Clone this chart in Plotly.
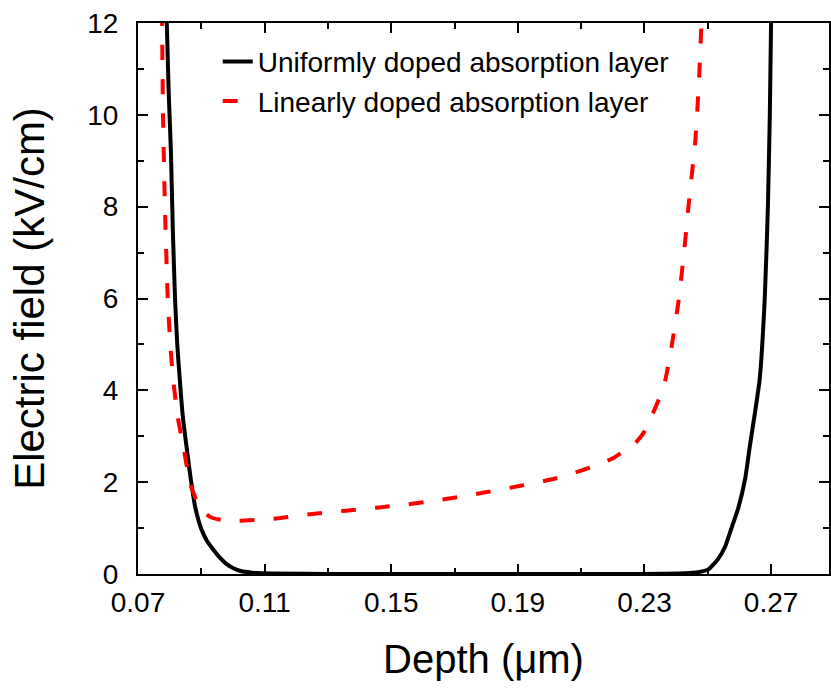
import plotly.graph_objects as go

# Uniformly doped absorption layer (black solid)
depth_uniform = [0.0788, 0.0791, 0.0797, 0.0804, 0.0810, 0.0817, 0.0824, 0.0832, 0.0842,
                 0.0853, 0.0866, 0.0880, 0.0900, 0.0918, 0.0937, 0.0958, 0.0979, 0.1000,
                 0.1021, 0.1060, 0.1125, 0.1300, 0.2200, 0.2360, 0.2430, 0.2470, 0.2502,
                 0.2533, 0.2555, 0.2574, 0.2597, 0.2618, 0.2633, 0.2649, 0.2664, 0.2680,
                 0.2690, 0.2696, 0.2700, 0.2703]
field_uniform = [13.0, 12.0, 10.5, 9.2, 7.5, 6.0, 5.0, 4.24, 3.4,
                 2.79, 2.1, 1.48, 0.98, 0.72, 0.54, 0.36, 0.22, 0.13,
                 0.07, 0.03, 0.01, 0.0, 0.0, 0.005, 0.015, 0.04, 0.10,
                 0.33, 0.6, 0.98, 1.45, 2.07, 2.79, 3.51, 4.24, 6.0,
                 8.0, 10.0, 12.0, 13.0]

# Linearly doped absorption layer (red dashed)
depth_linear = [0.0774, 0.0776, 0.0779, 0.0785, 0.0794, 0.0802, 0.0811, 0.0826, 0.0843,
                0.0864, 0.0880, 0.0895, 0.0912, 0.0932, 0.0970, 0.1021, 0.1137, 0.1242,
                0.1357, 0.1462, 0.1578, 0.1688, 0.1798, 0.1908, 0.2019, 0.2129, 0.2200,
                0.2244, 0.2271, 0.2300, 0.2323, 0.2345, 0.2365, 0.2386, 0.2407, 0.2425,
                0.2439, 0.2461, 0.2472, 0.2480, 0.2484]
field_linear = [13.0, 12.0, 10.0, 8.0, 6.0, 5.0, 4.24, 3.4, 2.79,
                1.99, 1.68, 1.45, 1.32, 1.23, 1.17, 1.16, 1.21, 1.30,
                1.38, 1.45, 1.54, 1.65, 1.78, 1.92, 2.08, 2.32, 2.52,
                2.72, 2.85, 3.1, 3.44, 3.8, 4.20, 4.96, 5.91, 7.0,
                8.0, 9.46, 10.7, 12.0, 13.0]

x_ticks = [0.07, 0.11, 0.15, 0.19, 0.23, 0.27]
x_tick_labels = ["0.07", "0.11", "0.15", "0.19", "0.23", "0.27"]
y_ticks = [0, 2, 4, 6, 8, 10, 12]

FONT = "Arial, Liberation Sans, sans-serif"

fig = go.Figure()
fig.add_trace(go.Scatter(
    x=depth_uniform, y=field_uniform, mode="lines",
    name="Uniformly doped absorption layer",
    line=dict(color="black", width=4, shape="spline", smoothing=0.5),
))
fig.add_trace(go.Scatter(
    x=depth_linear, y=field_linear, mode="lines",
    name="Linearly doped absorption layer",
    line=dict(color="#ff0000", width=4, dash="15px,19px", shape="spline", smoothing=0.5),
))

axis_common = dict(
    showgrid=False, zeroline=False, showline=True, linecolor="black", linewidth=2,
    mirror="ticks", ticks="inside", ticklen=10, tickwidth=2, tickcolor="black",
    tickfont=dict(family=FONT, size=28, color="black"),
)

fig.update_xaxes(
    **axis_common,
    range=[0.07, 0.2883], tickvals=x_ticks, ticktext=x_tick_labels,
    minor=dict(ticks="inside", ticklen=6, tickwidth=2, tickcolor="black", dtick=0.02, tick0=0.07),
    title=dict(text="Depth (μm)", font=dict(family=FONT, size=40, color="black"), standoff=28),
    ticklabelstandoff=2,
)
fig.update_yaxes(
    **axis_common,
    range=[0, 12], tickvals=y_ticks,
    minor=dict(ticks="inside", ticklen=6, tickwidth=2, tickcolor="black", dtick=1, tick0=0),
    title=dict(text="Electric field (kV/cm)", font=dict(family=FONT, size=42, color="black"), standoff=30),
    ticklabelstandoff=12,
)

fig.update_layout(
    width=831, height=689,
    margin=dict(l=138, r=0, t=23, b=115),
    paper_bgcolor="white", plot_bgcolor="white",
    showlegend=True,
    legend=dict(
        x=0.1154, y=0.975, xanchor="left", yanchor="top",
        bgcolor="rgba(0,0,0,0)", borderwidth=0,
        font=dict(family=FONT, size=28, color="black"),
    ),
)

fig.write_html("out.html")
